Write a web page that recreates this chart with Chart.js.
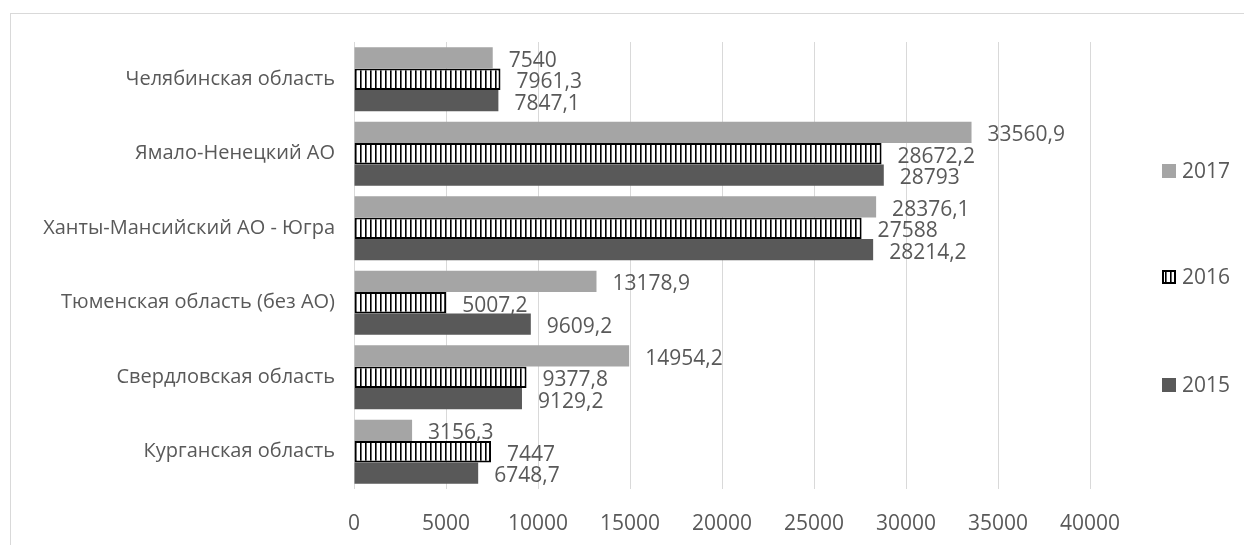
<!DOCTYPE html>
<html>
<head>
<meta charset="utf-8">
<script src="https://cdn.jsdelivr.net/npm/chart.js@4.4.1/dist/chart.umd.min.js"></script>
<style>
  html, body { margin: 0; padding: 0; background: #fff; }
  #wrap { position: relative; width: 1244px; height: 545px; overflow: hidden; }
  #frame { position: absolute; left: 10px; top: 13px; width: 1300px; height: 600px;
           border-left: 1px solid #d9d9d9; border-top: 1px solid #d9d9d9; }
  canvas { position: absolute; left: 0; top: 0; }
</style>
</head>
<body>
<div id="wrap">
  <div id="frame"></div>
  <canvas id="c" width="1244" height="545"></canvas>
</div>
<script>
const categories = [
  'Челябинская область',
  'Ямало-Ненецкий АО',
  'Ханты-Мансийский АО - Югра',
  'Тюменская область (без АО)',
  'Свердловская область',
  'Курганская область'
];
const values2017 = [7540, 33560.9, 28376.1, 13178.9, 14954.2, 3156.3];
const values2016 = [7961.3, 28672.2, 27588, 5007.2, 9377.8, 7447];
const values2015 = [7847.1, 28793, 28214.2, 9609.2, 9129.2, 6748.7];
const seriesNames = ['2017', '2016', '2015'];
const xTicks = [0, 5000, 10000, 15000, 20000, 25000, 30000, 35000, 40000];

const FONT = '"Open Sans", "DejaVu Sans", sans-serif';
const TXT = '#595959';

function makeStripe() {
  const p = document.createElement('canvas');
  p.width = 5; p.height = 5;
  const g = p.getContext('2d');
  g.fillStyle = '#ffffff';
  g.fillRect(0, 0, 5, 5);
  g.fillStyle = '#000000';
  g.fillRect(0, 0, 1.6, 5);
  return g.createPattern(p, 'repeat');
}
const ctx = document.getElementById('c').getContext('2d');
const stripe = makeStripe();

const fmt = v => String(v).replace('.', ',');

const labelPlugin = {
  id: 'valueLabels',
  afterDatasetsDraw(chart) {
    const c = chart.ctx;
    c.save();
    c.font = '21px ' + FONT;
    c.fillStyle = TXT;
    c.textAlign = 'left';
    c.textBaseline = 'middle';
    chart.data.datasets.forEach((ds, i) => {
      const meta = chart.getDatasetMeta(i);
      meta.data.forEach((bar, j) => {
        c.fillText(fmt(ds.data[j]), bar.x + 16, bar.y + 3);
      });
    });
    c.restore();
  }
};

const legendPlugin = {
  id: 'sideLegend',
  afterDraw(chart) {
    const c = chart.ctx;
    const ys = [171, 277, 385];
    c.save();
    c.font = '21px ' + FONT;
    c.textAlign = 'left';
    c.textBaseline = 'middle';
    chart.data.datasets.forEach((ds, i) => {
      const y = ys[i];
      const x = 1162, s = 14;
      c.fillStyle = ds.backgroundColor;
      c.fillRect(x, y - s / 2, s, s);
      if (ds.borderWidth) {
        c.strokeStyle = ds.borderColor;
        c.lineWidth = 2;
        c.strokeRect(x + 1, y - s / 2 + 1, s - 2, s - 2);
      }
      c.fillStyle = TXT;
      c.fillText(ds.label, 1182, y + 1);
    });
    c.restore();
  }
};

new Chart(ctx, {
  type: 'bar',
  data: {
    labels: categories,
    datasets: [
      { label: seriesNames[0], data: values2017, backgroundColor: '#a5a5a5', borderWidth: 0 },
      { label: seriesNames[1], data: values2016, backgroundColor: stripe, borderColor: '#000000', borderWidth: 2, borderSkipped: false },
      { label: seriesNames[2], data: values2015, backgroundColor: '#595959', borderWidth: 0 }
    ]
  },
  options: {
    indexAxis: 'y',
    responsive: false,
    animation: false,
    layout: { padding: { left: 0, right: 154, top: 42, bottom: 0 } },
    datasets: { bar: { categoryPercentage: 0.86, barPercentage: 1.0 } },
    plugins: { legend: { display: false }, tooltip: { enabled: false } },
    scales: {
      x: {
        min: 0, max: 40000,
        afterBuildTicks(scale) { scale.ticks = xTicks.map(v => ({ value: v })); },
        afterFit(scale) { scale.height = 56; },
        grid: { color: '#d9d9d9', lineWidth: 1, drawTicks: false },
        border: { display: false },
        ticks: { color: TXT, font: { family: FONT, size: 21 }, padding: 22, maxRotation: 0,
                 callback: v => String(v) }
      },
      y: {
        afterFit(scale) { scale.width = 354; },
        grid: { display: false, drawTicks: false },
        border: { display: false },
        ticks: { color: TXT, font: { family: FONT, size: 20 }, padding: 19 }
      }
    }
  },
  plugins: [labelPlugin, legendPlugin]
});
</script>
</body>
</html>
